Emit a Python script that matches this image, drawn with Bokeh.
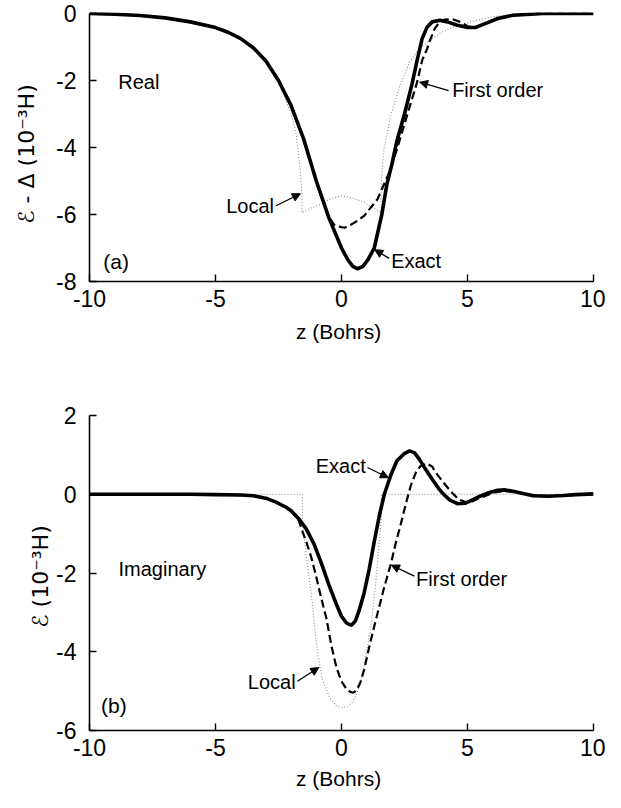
from bokeh.plotting import figure
from bokeh.models import Range1d, FixedTicker, Label, Arrow, NormalHead
from bokeh.layouts import column
from bokeh.embed import file_html
from bokeh.resources import INLINE

# ---------------- data ----------------
# (a) Real part
real_exact_z = [-10, -9, -8, -7, -6, -5, -4.5, -4, -3.5, -3, -2.5, -2, -1.5, -1, -0.5, 0, 0.25, 0.45,
                0.64, 0.85, 1.05, 1.3, 1.6, 1.8, 2.0, 2.2, 2.5, 2.8, 3.0, 3.2, 3.4, 3.6, 3.9, 4.2, 4.6,
                5.0, 5.3, 5.7, 6.2, 6.8, 7.5, 8, 9, 10]
real_exact_v = [0, -0.02, -0.06, -0.13, -0.25, -0.42, -0.56, -0.75, -1.02, -1.42, -2.0, -2.75, -3.75,
                -5.0, -6.1, -7.0, -7.35, -7.55, -7.62, -7.55, -7.35, -7.0, -6.0, -5.1, -4.5, -3.8,
                -3.0, -2.1, -1.4, -0.75, -0.4, -0.25, -0.2, -0.25, -0.35, -0.42, -0.42, -0.3, -0.15,
                -0.05, -0.02, 0, 0, 0]

real_first_z = [-10, -9, -8, -7, -6, -5, -4.5, -4, -3.5, -3, -2.5, -2, -1.5, -1, -0.55, -0.3, 0.0, 0.15,
                0.5, 0.9, 1.43, 1.96, 2.3, 2.61, 3.0, 3.2, 3.4, 3.5, 3.7, 3.85, 4.1, 4.4, 4.7, 5.0,
                5.3, 5.7, 6.2, 6.8, 7.5, 8, 9, 10]
real_first_v = [0, -0.02, -0.06, -0.13, -0.25, -0.42, -0.56, -0.75, -1.02, -1.42, -2.0, -2.75, -3.75,
                -5.0, -6.0, -6.3, -6.38, -6.39, -6.25, -6.04, -5.54, -4.63, -3.8, -3.02, -2.05, -1.4,
                -1.05, -0.82, -0.45, -0.3, -0.18, -0.17, -0.25, -0.38, -0.42, -0.3, -0.15, -0.05,
                -0.02, 0, 0, 0]

real_local_z = [-10, -9, -8, -7, -6, -5, -4.5, -4, -3.5, -3, -2.5, -2.3, -2.0, -1.8, -1.65, -1.57,
                -1.57, -1.2, -0.8, -0.4, 0.0, 0.4, 0.9, 1.3, 1.57, 1.57, 1.69, 1.96, 2.3, 2.7, 3.1,
                3.5, 4.0, 4.5, 5.0, 5.5, 6.0, 6.5, 7.0, 8, 10]
real_local_v = [0, -0.02, -0.06, -0.13, -0.25, -0.42, -0.56, -0.75, -1.02, -1.42, -2.05, -2.4, -3.0,
                -3.6, -4.6, -5.35, -5.95, -5.8, -5.69, -5.52, -5.44, -5.5, -5.64, -5.82, -5.94,
                -5.08, -4.03, -3.02, -2.2, -1.45, -1.05, -0.8, -0.55, -0.38, -0.28, -0.18, -0.1,
                -0.05, -0.02, 0, 0]

# (b) Imaginary part
imag_exact_z = [-10, -6, -5, -4, -3.5, -3, -2.6, -2.2, -2.0, -1.7, -1.4, -1.1, -0.8, -0.5, -0.2, 0.0,
                0.2, 0.39, 0.55, 0.7, 0.9, 1.1, 1.3, 1.5, 1.7, 1.97, 2.2, 2.49, 2.7, 2.9, 3.1, 3.35,
                3.6, 3.85, 4.05, 4.3, 4.6, 4.9, 5.2, 5.5, 5.8, 6.2, 6.5, 6.85, 7.2, 7.6, 8.2, 8.8,
                9.3, 10]
imag_exact_v = [0, 0, -0.01, -0.02, -0.04, -0.1, -0.2, -0.33, -0.42, -0.62, -0.88, -1.25, -1.75,
                -2.3, -2.8, -3.1, -3.27, -3.33, -3.22, -2.95, -2.5, -1.9, -1.2, -0.55, 0.0, 0.51,
                0.85, 1.03, 1.1, 1.05, 0.88, 0.62, 0.38, 0.15, 0.0, -0.15, -0.24, -0.23, -0.14,
                -0.05, 0.03, 0.1, 0.11, 0.07, 0.02, -0.04, -0.05, -0.03, -0.01, 0.01]

imag_first_z = [-10, -6, -5, -4, -3.5, -3, -2.6, -2.2, -2.0, -1.7, -1.55, -1.4, -1.2, -1.0, -0.8,
                -0.6, -0.4, -0.2, 0.0, 0.2, 0.35, 0.47, 0.6, 0.75, 0.9, 1.09, 1.3, 1.48, 1.7, 1.97,
                2.15, 2.36, 2.55, 2.75, 2.95, 3.14, 3.4, 3.6, 3.8, 4.04, 4.25, 4.43, 4.65, 4.97, 5.2,
                5.43, 5.8, 6.06, 6.5, 6.9, 7.3, 7.9, 8.5, 9.2, 10]
imag_first_v = [0, 0, -0.01, -0.02, -0.04, -0.1, -0.2, -0.33, -0.42, -0.66, -0.95, -1.2, -1.6, -2.1,
                -2.65, -3.15, -3.85, -4.4, -4.75, -4.95, -5.02, -5.04, -4.98, -4.78, -4.45, -3.91,
                -3.35, -2.9, -2.35, -1.74, -1.25, -0.74, -0.25, 0.22, 0.55, 0.72, 0.78, 0.7, 0.5,
                0.3, 0.14, 0.01, -0.13, -0.21, -0.18, -0.11, -0.02, 0.05, 0.08, 0.05, 0.0, -0.04,
                -0.04, -0.02, 0.0]

imag_local_z = [-10, -1.55, -1.55, -1.4, -1.16, -1.01, -0.78, -0.47, -0.2, 0.0, 0.25, 0.47, 0.7,
                0.93, 1.16, 1.35, 1.5, 1.58, 1.58, 10]
imag_local_v = [0, 0, -0.66, -1.57, -2.74, -3.74, -4.66, -5.16, -5.38, -5.42, -5.38, -5.25, -4.91,
                -4.25, -3.4, -2.3, -1.2, -0.6, 0, 0]

x_ticks = [-10, -5, 0, 5, 10]
x_tick_labels = ["-10", "-5", "0", "5", "10"]
real_y_ticks = [0, -2, -4, -6, -8]
real_y_tick_labels = ["0", "-2", "-4", "-6", "-8"]
imag_y_ticks = [2, 0, -2, -4, -6]
imag_y_tick_labels = ["2", "0", "-2", "-4", "-6"]

FONT = "Liberation Sans"


def style(p, yticks, ylabels, ylabel, ylabel_standoff, xlabel_standoff, ybounds):
    p.grid.visible = False
    p.outline_line_color = None
    p.background_fill_color = "white"
    p.border_fill_color = "white"
    for ax in (p.xaxis[0], p.yaxis[0]):
        ax.major_tick_in = 7
        ax.major_tick_out = 0
        ax.minor_tick_in = 0
        ax.minor_tick_out = 0
        ax.axis_line_width = 1.6
        ax.major_tick_line_width = 1.4
        ax.major_label_text_font = FONT
        ax.major_label_text_font_size = "23px"
        ax.major_label_text_color = "black"
        ax.axis_label_text_font_size = "21px"
        ax.axis_label_text_font_style = "normal"
        ax.axis_label_text_color = "black"
    p.xaxis.axis_label_text_font = FONT
    p.yaxis.axis_label_text_font = "DejaVu Sans"
    p.yaxis.axis_label_text_font_size = "22px"
    p.xaxis.ticker = FixedTicker(ticks=x_ticks)
    p.xaxis.major_label_overrides = {t: s for t, s in zip(x_ticks, x_tick_labels)}
    p.xaxis.axis_label = "z  (Bohrs)"
    p.xaxis.major_label_standoff = 8
    p.xaxis.axis_label_standoff = xlabel_standoff
    p.xaxis.bounds = (-10, 10)
    p.yaxis.ticker = FixedTicker(ticks=yticks)
    p.yaxis.major_label_overrides = {t: s for t, s in zip(yticks, ylabels)}
    p.yaxis.axis_label = ylabel
    p.yaxis.major_label_standoff = 13
    p.yaxis.axis_label_standoff = ylabel_standoff
    p.yaxis.bounds = ybounds


def add_label(p, x, y, text, align="left", size="20px"):
    p.add_layout(Label(x=x, y=y, text=text, text_font=FONT, text_font_size=size,
                       text_baseline="middle", text_align=align, text_color="black"))


def add_arrow(p, x0, y0, x1, y1):
    p.add_layout(Arrow(x_start=x0, y_start=y0, x_end=x1, y_end=y1, line_width=1.3,
                       line_color="black",
                       end=NormalHead(size=8, fill_color="black", line_color="black")))


# ---------------- (a) Real ----------------
pa = figure(width=605, height=345, output_backend="svg", toolbar_location=None,
            x_range=Range1d(-10, 10), y_range=Range1d(-8, 0.03),
            min_border_left=85, min_border_right=12, min_border_top=12, min_border_bottom=40)
style(pa, real_y_ticks, real_y_tick_labels, "ℰ - Δ   (10⁻³H)", 14, 10, (-8, 0))

pa.line(real_local_z, real_local_v, line_color="#8a8a8a", line_width=1.1, line_dash="1 2")
pa.line(real_first_z, real_first_v, line_color="black", line_width=2.2, line_dash="8 4")
pa.line(real_exact_z, real_exact_v, line_color="black", line_width=3.6)

add_label(pa, -8.86, -2.05, "Real")
add_label(pa, -9.45, -7.4, "(a)", size="21px")
add_label(pa, -2.68, -5.74, "Local", align="right")
add_arrow(pa, -2.6, -5.74, -1.63, -5.38)
add_label(pa, 1.97, -7.39, "Exact")
add_arrow(pa, 1.89, -7.31, 1.32, -7.05)
add_label(pa, 4.39, -2.28, "First order")
add_arrow(pa, 4.25, -2.30, 3.1, -2.05)

# ---------------- (b) Imaginary ----------------
pb = figure(width=605, height=447, output_backend="svg", toolbar_location=None,
            x_range=Range1d(-10, 10), y_range=Range1d(-6, 2),
            min_border_left=89, min_border_right=12, min_border_top=70, min_border_bottom=40)
style(pb, imag_y_ticks, imag_y_tick_labels, "ℰ  (10⁻³H)", 0, 8, (-6, 2))

pb.line(imag_local_z, imag_local_v, line_color="#8a8a8a", line_width=1.1, line_dash="1 2")
pb.line(imag_first_z, imag_first_v, line_color="black", line_width=2.2, line_dash="8 4")
pb.line(imag_exact_z, imag_exact_v, line_color="black", line_width=3.6)

add_label(pb, -8.85, -1.91, "Imaginary")
add_label(pb, -9.54, -5.36, "(b)", size="21px")
add_label(pb, 0.96, 0.73, "Exact", align="right")
add_arrow(pb, 1.03, 0.68, 1.86, 0.42)
add_label(pb, 2.96, -2.14, "First order")
add_arrow(pb, 2.89, -2.08, 1.98, -1.8)
add_label(pb, -1.82, -4.77, "Local", align="right")
add_arrow(pb, -1.75, -4.75, -0.9, -4.4)

layout = column(pa, pb, spacing=0)
open("out.html", "w").write(file_html(layout, INLINE))
